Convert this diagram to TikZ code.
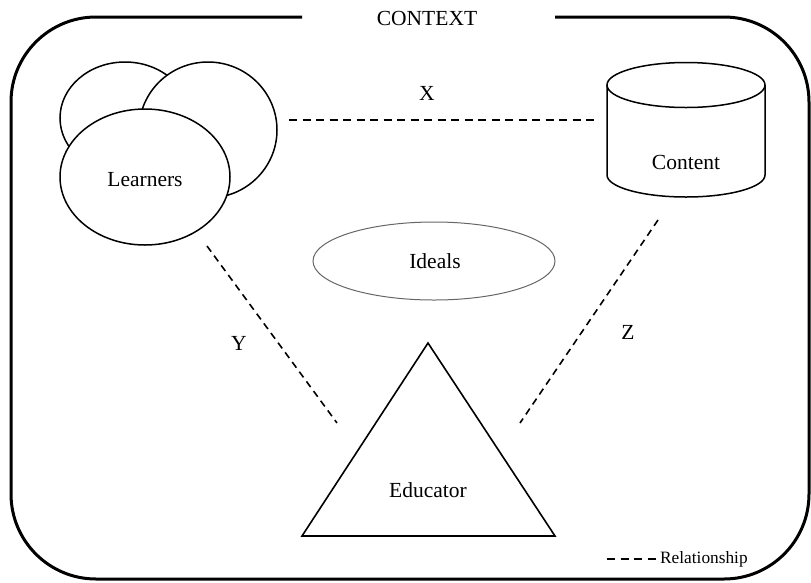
\documentclass[tikz,border=0pt]{standalone}
\usepackage{fontspec}
\setmainfont{Liberation Serif}
\usetikzlibrary{shapes.geometric}
\begin{document}
\begin{tikzpicture}[x=1pt,y=-1pt,
  shapeline/.style={draw=black, line width=1.5pt, fill=white},
  blob/.style={shapeline, ellipse, inner sep=0pt},
  rel/.style={draw=black, line width=1.6pt, dash pattern=on 8pt off 5.5pt},
  lbl/.style={font=\fontsize{21.5}{24}\selectfont, anchor=base, inner sep=0pt},
  small/.style={font=\fontsize{17.3}{20}\selectfont, anchor=base west, inner sep=0pt},
  ctxframe/.style={draw=black, line width=3pt, rounded corners=85pt}]
\useasboundingbox (0,0) rectangle (811,582);
% context frame with gap for title
\draw[ctxframe] (302,17) -- (11,17) -- (11,579) -- (809,579) -- (809,17) -- (555,17);
\node[lbl] (context) at (427,25) {CONTEXT};
% learners
\node[blob, minimum width=130pt, minimum height=112pt] (l1) at (125,118) {};
\node[blob, minimum width=138pt, minimum height=136pt] (l2) at (208,130) {};
\node[blob, minimum width=170pt, minimum height=136pt] (learners) at (145,177) {};
\node[lbl] (learnerstxt) at (145,186) {Learners};
% content cylinder
\draw[shapeline] (607,85) -- (607,175) arc[start angle=180, end angle=0, x radius=79, y radius=22] -- (765,85);
\draw[shapeline] (686,85) ellipse[x radius=79, y radius=22.5];
\node[lbl] (content) at (686,169) {Content};
% ideals
\node[ellipse, draw=black!60, line width=1pt, minimum width=242pt, minimum height=78pt, inner sep=0pt] (ideals) at (434,261) {};
\node[lbl] (idealstxt) at (435,268) {Ideals};
% educator triangle
\coordinate (ta) at (428,343);
\coordinate (tl) at (302,536);
\coordinate (tr) at (555,536);
\draw[draw=black, line width=1.6pt, line join=miter] (ta) -- (tl) -- (tr) -- cycle;
\node[lbl] (educator) at (428,497) {Educator};
% relationships
\coordinate (x1) at (289,120);
\coordinate (x2) at (594,120);
\draw[rel] (x1) -- (x2);
\node[lbl] (xl) at (427,100) {X};
\coordinate (y1) at (207,246);
\coordinate (y2) at (337,423);
\draw[rel, dash pattern=on 7pt off 5pt] (y1) -- (y2);
\node[lbl] (yl) at (239,350) {Y};
\coordinate (z1) at (658,220);
\coordinate (z2) at (520,423);
\draw[rel, dash pattern=on 7pt off 5pt] (z1) -- (z2);
\node[lbl] (zl) at (628,339) {Z};
% legend
\coordinate (g1) at (607,559);
\coordinate (g2) at (656,559);
\draw[rel] (g1) -- (g2);
\node[small] (legend) at (660,563) {Relationship};
\end{tikzpicture}
\end{document}
